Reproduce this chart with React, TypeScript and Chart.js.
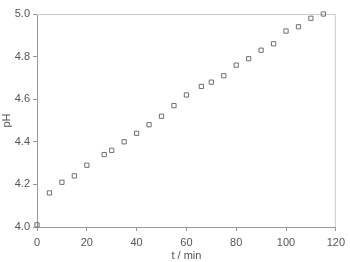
import React, { useEffect, useRef } from "react";
import { Chart, registerables } from "chart.js";

Chart.register(...registerables);

const times = [0, 5, 10, 15, 20, 27, 30, 35, 40, 45, 50, 55, 60, 66, 70, 75, 80, 85, 90, 95, 100, 105, 110, 115];
const phValues = [4.01, 4.16, 4.21, 4.24, 4.29, 4.34, 4.36, 4.40, 4.44, 4.48, 4.52, 4.57, 4.62, 4.66, 4.68, 4.71, 4.76, 4.79, 4.83, 4.86, 4.92, 4.94, 4.98, 5.0];
const xTitle = "t / min";
const yTitle = "pH";

const frameBox = {
  id: "frameBox",
  beforeDatasetsDraw(chart: any) {
    const { ctx, chartArea } = chart;
    ctx.save();
    ctx.strokeStyle = "#cccccc";
    ctx.lineWidth = 1;
    ctx.beginPath();
    ctx.moveTo(chartArea.left, chartArea.top + 0.5);
    ctx.lineTo(chartArea.right - 0.5, chartArea.top + 0.5);
    ctx.lineTo(chartArea.right - 0.5, chartArea.bottom);
    ctx.stroke();
    ctx.restore();
  },
};

export default function App() {
  const ref = useRef<HTMLCanvasElement>(null);
  useEffect(() => {
    const font = { family: "'Liberation Sans', Arial, sans-serif", size: 11 };
    const chart = new Chart(ref.current!, {
      type: "scatter",
      data: {
        datasets: [
          {
            data: times.map((t, i) => ({ x: t, y: phValues[i] })),
            pointStyle: "rect",
            pointRadius: 3,
            pointBorderColor: "#707070",
            pointBackgroundColor: "rgba(255,255,255,0)",
            pointBorderWidth: 1,
            showLine: false,
          },
        ],
      },
      options: {
        animation: false,
        responsive: false,
        clip: false as any,
        layout: { padding: { left: 0, top: 14, right: 10, bottom: 0 } },
        plugins: { legend: { display: false }, tooltip: { enabled: false } },
        scales: {
          x: {
            type: "linear",
            min: 0,
            max: 120,
            ticks: { stepSize: 20, color: "#555", font, padding: 5 },
            grid: { drawOnChartArea: false, drawTicks: true, tickLength: 4, color: "#999" },
            border: { color: "#999" },
            title: { display: true, text: xTitle, color: "#555", font, padding: { top: 0, bottom: -1 } },
            afterFit(scale: any) {
              scale.height = 35;
            },
          },
          y: {
            type: "linear",
            min: 4.0,
            max: 5.0,
            ticks: {
              stepSize: 0.2,
              color: "#555",
              font,
              padding: 3,
              callback: (v: any) => Number(v).toFixed(1),
            },
            grid: { drawOnChartArea: false, drawTicks: true, tickLength: 4, color: "#999" },
            border: { color: "#999" },
            title: { display: true, text: yTitle, color: "#555", font, padding: { top: 0, bottom: 0 } },
            afterFit(scale: any) {
              scale.width = 37;
            },
          },
        },
      },
      plugins: [frameBox],
    });
    return () => chart.destroy();
  }, []);
  return (
    <div style={{ position: "fixed", left: 0, top: 0, width: 350, height: 262, background: "#fff" }}>
      <canvas ref={ref} width={350} height={262} />
    </div>
  );
}
